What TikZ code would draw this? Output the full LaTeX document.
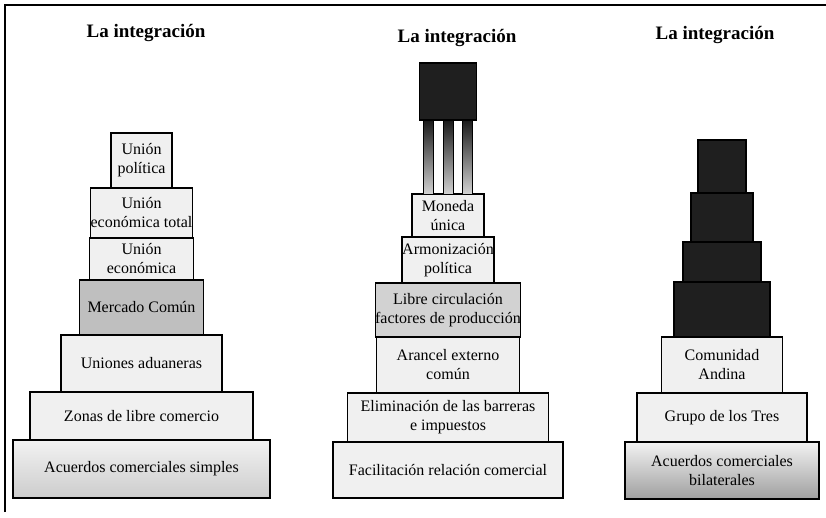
\documentclass[tikz,border=0pt]{standalone}
\usepackage{fontspec}
\setmainfont{Liberation Serif}
\usetikzlibrary{positioning}

\tikzset{
  tier/.style={draw, line width=1.2pt, fill=gray!12, align=center, inner sep=0pt, outer sep=0pt, font=\fontsize{16}{19}\selectfont},
  tiermid/.style={tier, fill=gray!50},
  tierdark/.style={tier, fill=black!88},
  column/.style={draw=black, line width=0.6pt, top color=black!90, bottom color=gray!35, minimum width=10pt, minimum height=74pt, inner sep=0pt, outer sep=0pt},
  title/.style={font=\bfseries\fontsize{19}{22}\selectfont}
}

\begin{document}
\begin{tikzpicture}[x=1pt, y=-1pt]
\useasboundingbox (0,0) rectangle (826,518);

% Frame
\draw[line width=1.2pt] (5,512) -- (5,5) -- (826,5);

% Titles
\node[title] (tleft) at (146,33) {La integración};
\node[title] (tmid) at (457,38) {La integración};
\node[title] (tright) at (715,35) {La integración};

% Left pyramid
\node[tier, minimum width=257pt, minimum height=58pt, top color=gray!10, bottom color=gray!40] (acs) at (141.5,469) {Acuerdos comerciales simples};
\node[tier, minimum width=223pt, minimum height=48pt, above=0pt of acs] (zlc) {Zonas de libre comercio};
\node[tier, minimum width=161pt, minimum height=57pt, above=0pt of zlc] (uad) {Uniones aduaneras};
\node[tiermid, minimum width=124pt, minimum height=55pt, above=0pt of uad] (mco) {Mercado Común};
\node[tier, minimum width=104pt, minimum height=42pt, above=0pt of mco] (uec) {Unión\\económica};
\node[tier, minimum width=81pt, minimum height=50pt, above=0pt of uec] (uet) {Unión\\económica total};
\node[tier, minimum width=61pt, minimum height=55pt, above=0pt of uet] (upo) {Unión\\política};

% Middle pyramid
\node[tier, minimum width=230pt, minimum height=56pt] (frc) at (448,470) {Facilitación relación comercial};
\node[tier, minimum width=201pt, minimum height=49pt, above=0pt of frc] (ebi) {Eliminación de las barreras\\e impuestos};
\node[tier, minimum width=143pt, minimum height=56pt, above=0pt of ebi] (aec) {Arancel externo\\común};
\node[tier, fill=gray!35, minimum width=129pt, minimum height=54pt, above=0pt of aec] (lcf) {Libre circulación\\factores de producción};
\node[tier, minimum width=92pt, minimum height=46pt, above=0pt of lcf] (apo) {Armonización\\política};
\node[tier, minimum width=72pt, minimum height=43pt, above=0pt of apo] (mun) {Moneda\\única};
\node[column, above=0pt of mun.north, xshift=-20pt] (colA) {};
\node[column, above=0pt of mun.north] (colB) {};
\node[column, above=0pt of mun.north, xshift=19pt] (colC) {};
\node[tierdark, minimum width=57pt, minimum height=57pt, above=0pt of colB] (mtop) {};

% Right pyramid
\node[tier, minimum width=194pt, minimum height=57pt, top color=gray!10, bottom color=gray!75] (acb) at (722,470.5) {Acuerdos comerciales\\bilaterales};
\node[tier, minimum width=170pt, minimum height=49pt, above=0pt of acb] (gtr) {Grupo de los Tres};
\node[tier, minimum width=121pt, minimum height=56pt, above=0pt of gtr] (can) {Comunidad\\Andina};
\node[tierdark, minimum width=96pt, minimum height=55pt, above=0pt of can] (rfour) {};
\node[tierdark, minimum width=78pt, minimum height=40pt, above=0pt of rfour] (rthree) {};
\node[tierdark, minimum width=62pt, minimum height=49pt, above=0pt of rthree] (rtwo) {};
\node[tierdark, minimum width=48pt, minimum height=53pt, above=0pt of rtwo] (rone) {};
\end{tikzpicture}
\end{document}
